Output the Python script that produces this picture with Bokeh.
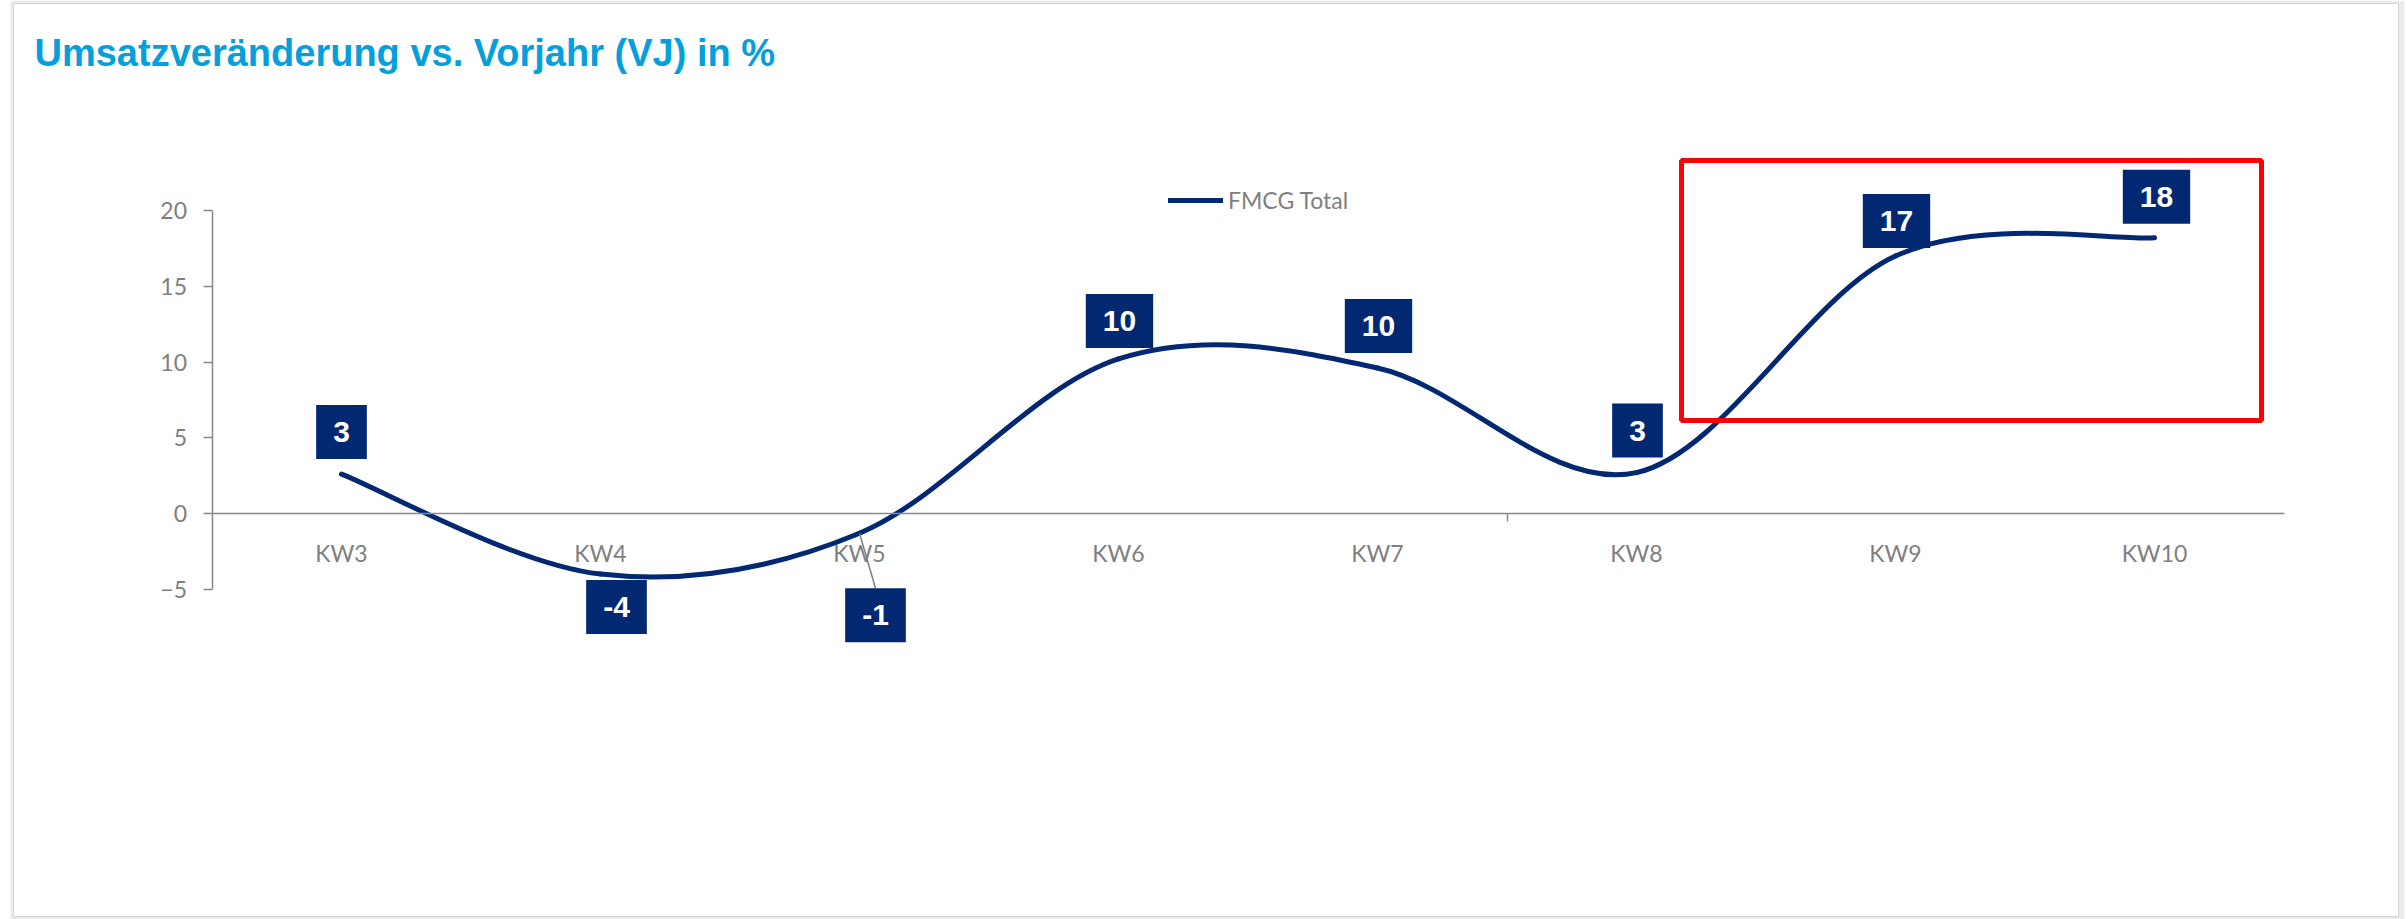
import numpy as np
from bokeh.plotting import figure
from bokeh.models import (FixedTicker, LinearAxis, Range1d, Legend, LegendItem,
                          Label, BoxAnnotation)
from bokeh.core.properties import value
from bokeh.embed import file_html
from bokeh.resources import INLINE

# ---------------- data ----------------
categories = ["KW3", "KW4", "KW5", "KW6", "KW7", "KW8", "KW9", "KW10"]
fmcg_total = [2.6, -4.0, -1.3, 10.2, 9.6, 2.7, 17.0, 18.2]
series_name = "FMCG Total"
y_ticks = [-5, 0, 5, 10, 15, 20]
title_text = "Umsatzveränderung vs. Vorjahr (VJ)  in %"

# ---------------- layout / style ----------------
W, H = 2407, 919
X0_PX, STEP_PX = 341.0, 259.0      # pixel of first category, category spacing
Y0_PX, UNIT_PX = 513.0, 15.15      # pixel of value 0, pixels per unit
NAVY = "#022872"
GREY = "#7f7f7f"
AXIS_GREY = "#898989"
TITLE_BLUE = "#05A0DB"

# label placement (screen px offsets from the data point)
label_dx = [0, 16, 16, 1, 1, 1, 1, 2]
label_dy = [-42, 33, 82, -38, -42, -42, -35, -41]
label_leader = [False, False, True, False, False, False, False, False]
LABEL_HALF_H = 27


def px_to_x(px):
    return (px - X0_PX) / STEP_PX


def py_to_y(py):
    return (Y0_PX - py) / UNIT_PX


p = figure(width=W, height=H, output_backend="svg", toolbar_location=None,
           x_range=Range1d(px_to_x(0), px_to_x(W)),
           y_range=Range1d(py_to_y(H), py_to_y(0)),
           min_border=0, x_axis_type=None, y_axis_type=None)
p.outline_line_color = None
p.background_fill_color = "white"
p.border_fill_color = "white"

# page frame with light shadow
p.quad(left=[px_to_x(10)], right=[px_to_x(2404)], top=[py_to_y(0)], bottom=[py_to_y(919)],
       fill_color="#ebebeb", line_color=None)
p.quad(left=[px_to_x(13)], right=[px_to_x(2398)], top=[py_to_y(3)], bottom=[py_to_y(916)],
       fill_color="white", line_color="#d2d2d2", line_width=1)

n = len(categories)
idx = list(range(n))

# axes
xaxis = LinearAxis(fixed_location=0, ticker=FixedTicker(ticks=idx),
                   major_label_overrides={i: c for i, c in enumerate(categories)},
                   bounds=(-0.5, n - 0.5))
xaxis.axis_line_color = AXIS_GREY
xaxis.axis_line_width = 1.5
xaxis.major_tick_line_color = None
xaxis.minor_tick_line_color = None
xaxis.major_label_standoff = 19
xaxis.major_label_text_font = "Lato"
xaxis.major_label_text_font_size = "23px"
xaxis.major_label_text_color = GREY
p.add_layout(xaxis, "below")

xtick = LinearAxis(fixed_location=0, ticker=FixedTicker(ticks=[4.5]))
xtick.axis_line_color = None
xtick.major_tick_line_color = AXIS_GREY
xtick.major_tick_line_width = 1.5
xtick.major_tick_out = 8
xtick.major_tick_in = 0
xtick.minor_tick_line_color = None
xtick.major_label_text_alpha = 0
p.add_layout(xtick, "below")

yaxis = LinearAxis(fixed_location=-0.5, ticker=FixedTicker(ticks=y_ticks),
                   bounds=(min(y_ticks), max(y_ticks)))
yaxis.axis_line_color = AXIS_GREY
yaxis.axis_line_width = 1.5
yaxis.major_tick_line_color = AXIS_GREY
yaxis.major_tick_line_width = 1.5
yaxis.major_tick_out = 9
yaxis.major_tick_in = 0
yaxis.minor_tick_line_color = None
yaxis.major_label_standoff = 16
yaxis.major_label_text_font = "Lato"
yaxis.major_label_text_font_size = "23px"
yaxis.major_label_text_color = GREY
p.add_layout(yaxis, "left")

# smoothed line (Bezier segments through the data points)
P = np.column_stack([np.array(idx, dtype=float), np.array(fmcg_total, dtype=float)])
Pm = np.vstack([P[0], P, P[-1]])
c0 = P[:-1] + (Pm[2:n + 1] - Pm[0:n - 1]) / 6.0
c1 = P[1:] - (Pm[3:n + 2] - Pm[1:n]) / 6.0
curve = p.bezier(x0=P[:-1, 0], y0=P[:-1, 1], x1=P[1:, 0], y1=P[1:, 1],
                 cx0=c0[:, 0], cy0=c0[:, 1], cx1=c1[:, 0], cy1=c1[:, 1],
                 line_color=NAVY, line_width=5, line_cap="round")

# leader lines
for i in range(n):
    if label_leader[i]:
        p.segment(x0=[idx[i]], y0=[fmcg_total[i]],
                  x1=[idx[i] + label_dx[i] / STEP_PX],
                  y1=[fmcg_total[i] - (label_dy[i] - LABEL_HALF_H) / UNIT_PX],
                  line_color=GREY, line_width=1.5)

# data labels
label_text = [f"{round(v):.0f}" for v in fmcg_total]
p.text(x=idx, y=fmcg_total, text=label_text, x_offset=label_dx, y_offset=label_dy,
       text_font=value("Liberation Sans"), text_font_style="bold", text_font_size="30px",
       text_color="white", text_align="center", text_baseline="middle",
       background_fill_color=NAVY, padding=(17, 17))

# legend
legend = Legend(items=[LegendItem(label=series_name, renderers=[curve])],
                location=(1168, H - 202 - 12), orientation="horizontal",
                glyph_width=55, glyph_height=24, label_height=24, label_standoff=5,
                padding=0, margin=0, border_line_color=None, background_fill_alpha=0,
                label_text_font="Lato", label_text_font_size="23px",
                label_text_color=GREY)
p.add_layout(legend, "center")

# highlight box
p.add_layout(BoxAnnotation(left=px_to_x(1681), right=px_to_x(2261),
                           top=py_to_y(160), bottom=py_to_y(420),
                           fill_alpha=0, line_color="#ff0000", line_alpha=1.0,
                           line_width=5))

# title
p.add_layout(Label(x=px_to_x(34), y=py_to_y(52), text=title_text,
                   text_font="Liberation Sans", text_font_style="bold",
                   text_font_size="38px", text_color=TITLE_BLUE,
                   text_baseline="alphabetic", text_align="left"))

open("out.html", "w").write(file_html(p, INLINE))
